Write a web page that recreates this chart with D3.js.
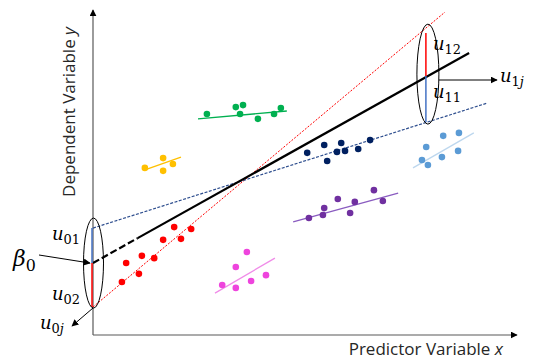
<!DOCTYPE html>
<html>
<head>
<meta charset="utf-8">
<script src="https://cdn.jsdelivr.net/npm/d3@7"></script>
<style>
  body { margin: 0; background: #fff; }
  svg { display: block; }
</style>
</head>
<body>
<script>
// values, in arbitrary units (x 0..10, y 0..10)
var redX = [0.68, 1.08, 0.78, 1.15, 1.44, 1.65, 2.07, 1.91, 2.31];
var redY = [1.62, 1.87, 2.20, 2.42, 2.35, 2.91, 2.94, 3.30, 3.24];
var yellowX = [1.22, 1.65, 1.65, 1.88];
var yellowY = [5.11, 5.41, 5.02, 5.23];
var greenX = [2.68, 3.36, 3.53, 3.46, 3.88, 4.26, 4.42];
var greenY = [6.76, 6.97, 7.03, 6.76, 6.61, 6.76, 6.94];
var pinkX = [3.04, 3.36, 3.36, 3.62, 3.72, 4.07];
var pinkY = [1.53, 1.44, 2.08, 2.54, 1.65, 1.83];
var navyX = [5.04, 5.44, 5.51, 5.74, 5.84, 5.93, 6.24, 6.52];
var navyY = [5.57, 5.81, 5.32, 5.60, 5.87, 5.63, 5.69, 5.96];
var purpleX = [5.08, 5.41, 5.44, 5.76, 6.16, 6.05, 6.61, 6.82];
var purpleY = [3.58, 3.67, 3.88, 4.16, 4.07, 3.73, 4.43, 4.10];
var lightX = [7.84, 8.24, 8.61, 7.74, 7.88, 8.21, 8.59];
var lightY = [5.75, 6.09, 6.18, 5.35, 5.20, 5.44, 5.63];

// per-group fitted segments [x1, y1, x2, y2]
var yellowFit = [1.22, 5.05, 2.07, 5.44];
var greenFit = [2.47, 6.61, 4.56, 6.85];
var pinkFit = [2.87, 1.28, 4.28, 2.35];
var purpleFit = [4.71, 3.46, 7.18, 4.34];
var lightFit = [7.53, 5.11, 8.96, 6.18];

// big lines: intercept, slope, end x
var fixedLine = [2.20, 0.726, 8.85];   // black (beta0)
var redLine = [0.856, 1.089, 8.28];
var blueLine = [3.27, 0.412, 9.27];
var dashEnd = 1.05;                     // black is dashed up to here
var x0j = 0, x1j = 7.88;                 // where the u's are shown

var width = 537, height = 359;

var svg = d3.select("body").append("svg")
    .attr("width", width)
    .attr("height", height)
    .style("font-family", "'Open Sans', sans-serif");

var x = d3.scaleLinear().domain([0, 10]).range([93, 518]);
var y = d3.scaleLinear().domain([0, 10]).range([335, 8]);

var defs = svg.append("defs");
defs.append("marker")
    .attr("id", "arr")
    .attr("viewBox", "0 0 10 10")
    .attr("refX", 9).attr("refY", 5)
    .attr("markerWidth", 7).attr("markerHeight", 7)
    .attr("markerUnits", "userSpaceOnUse")
    .attr("orient", "auto")
  .append("path")
    .attr("d", "M0,0L10,5L0,10z")
    .attr("fill", "#000");

// axes
svg.append("line")
    .attr("x1", x(0)).attr("y1", y(0))
    .attr("x2", x(0)).attr("y2", y(10) + 2)
    .attr("stroke", "#595959").attr("stroke-width", 1.2)
    .attr("marker-end", "url(#arr)");
svg.append("line")
    .attr("x1", x(0)).attr("y1", y(0))
    .attr("x2", x(10) - 1).attr("y2", y(0))
    .attr("stroke", "#595959").attr("stroke-width", 1.2)
    .attr("marker-end", "url(#arr)");

svg.append("text")
    .attr("x", 503).attr("y", 355)
    .attr("text-anchor", "end")
    .attr("font-size", 17).attr("fill", "#262626")
    .html("Predictor Variable <tspan font-style='italic'>x</tspan>");

svg.append("text")
    .attr("transform", "translate(75,112) rotate(-90)")
    .attr("text-anchor", "middle")
    .attr("font-size", 17).attr("fill", "#262626")
    .html("Dependent Variable <tspan font-style='italic'>y</tspan>");

function at(l, xv) { return l[0] + l[1] * xv; }

// the three big lines
svg.append("line")
    .attr("x1", x(0)).attr("y1", y(at(redLine, 0)))
    .attr("x2", x(redLine[2])).attr("y2", y(at(redLine, redLine[2])))
    .attr("stroke", "#ff0000").attr("stroke-width", 1)
    .attr("stroke-dasharray", "2,1.5");
svg.append("line")
    .attr("x1", x(0)).attr("y1", y(at(blueLine, 0)))
    .attr("x2", x(blueLine[2])).attr("y2", y(at(blueLine, blueLine[2])))
    .attr("stroke", "#2f4f8f").attr("stroke-width", 1.2)
    .attr("stroke-dasharray", "3,1.5");
svg.append("line")
    .attr("x1", x(0)).attr("y1", y(at(fixedLine, 0)))
    .attr("x2", x(dashEnd)).attr("y2", y(at(fixedLine, dashEnd)))
    .attr("stroke", "#000").attr("stroke-width", 2.2)
    .attr("stroke-dasharray", "7,3");
svg.append("line")
    .attr("x1", x(dashEnd)).attr("y1", y(at(fixedLine, dashEnd)))
    .attr("x2", x(fixedLine[2])).attr("y2", y(at(fixedLine, fixedLine[2])))
    .attr("stroke", "#000").attr("stroke-width", 2.2);

// group fit lines
var fits = [
  [yellowFit, "#ffc000"], [greenFit, "#00b050"], [pinkFit, "#f08ce8"],
  [purpleFit, "#8a5cc0"], [lightFit, "#bdd7ee"]
];
fits.forEach(function (f) {
  svg.append("line")
      .attr("x1", x(f[0][0])).attr("y1", y(f[0][1]))
      .attr("x2", x(f[0][2])).attr("y2", y(f[0][3]))
      .attr("stroke", f[1]).attr("stroke-width", 1.3);
});

// dots
var groups = [
  [redX, redY, "#ff0000"], [yellowX, yellowY, "#ffc000"],
  [greenX, greenY, "#00b050"], [pinkX, pinkY, "#ee44dd"],
  [navyX, navyY, "#002060"], [purpleX, purpleY, "#7030a0"],
  [lightX, lightY, "#5b9bd5"]
];
groups.forEach(function (g) {
  svg.append("g").selectAll("circle")
      .data(d3.range(g[0].length))
      .enter().append("circle")
      .attr("cx", function (i) { return x(g[0][i]); })
      .attr("cy", function (i) { return y(g[1][i]); })
      .attr("r", 3.3)
      .attr("fill", g[2]);
});

// residual segments inside the ellipses
function seg(xv, ya, yb, col, dx) {
  svg.append("line")
      .attr("x1", x(xv) + dx).attr("y1", y(ya))
      .attr("x2", x(xv) + dx).attr("y2", y(yb))
      .attr("stroke", col).attr("stroke-width", 1.5);
}
seg(x0j, at(blueLine, x0j), at(fixedLine, x0j), "#4472c4", -1);
seg(x0j, at(fixedLine, x0j), at(redLine, x0j), "#ff0000", -1);
seg(x1j, at(redLine, x1j) - 0.2, at(fixedLine, x1j), "#ff0000", -2);
seg(x1j, at(fixedLine, x1j), at(blueLine, x1j), "#4472c4", -2);

// ellipses
svg.append("ellipse")
    .attr("cx", x(x0j) + 0.5).attr("cy", y(at(fixedLine, x0j)))
    .attr("rx", 10).attr("ry", 45)
    .attr("fill", "none").attr("stroke", "#000").attr("stroke-width", 1);
svg.append("ellipse")
    .attr("cx", x(x1j)).attr("cy", (y(at(redLine, x1j)) + y(at(blueLine, x1j))) / 2)
    .attr("rx", 11).attr("ry", 50)
    .attr("fill", "none").attr("stroke", "#000").attr("stroke-width", 1);

// arrows for the random effects
svg.append("line")
    .attr("x1", x(x1j) + 11).attr("y1", 80)
    .attr("x2", 497).attr("y2", 80)
    .attr("stroke", "#000").attr("stroke-width", 1)
    .attr("marker-end", "url(#arr)");
svg.append("line")
    .attr("x1", x(x0j)).attr("y1", y(at(redLine, x0j)) + 1)
    .attr("x2", 72).attr("y2", 326)
    .attr("stroke", "#000").attr("stroke-width", 1)
    .attr("marker-end", "url(#arr)");
svg.append("line")
    .attr("x1", 39).attr("y1", 255)
    .attr("x2", x(x0j) - 3).attr("y2", y(at(fixedLine, x0j)))
    .attr("stroke", "#000").attr("stroke-width", 1)
    .attr("marker-end", "url(#arr)");

// math labels
function mlab(px, py, main, sub, size) {
  var t = svg.append("text")
      .attr("x", px).attr("y", py)
      .attr("font-family", "'DejaVu Serif', serif")
      .attr("font-size", size).attr("fill", "#000");
  t.append("tspan").attr("font-style", "italic").text(main);
  var s = t.append("tspan").attr("font-size", size * 0.72).attr("dy", size * 0.22);
  s.append("tspan").text(sub.replace("j", ""));
  if (sub.indexOf("j") >= 0) s.append("tspan").attr("font-style", "italic").text("j");
}
mlab(52, 240, "u", "01", 18);
mlab(52, 300, "u", "02", 18);
mlab(40, 329, "u", "0j", 18);
mlab(13, 266, "β", "0", 22);
mlab(433, 50, "u", "12", 18);
mlab(433, 98, "u", "11", 18);
mlab(500, 82, "u", "1j", 18);
</script>
</body>
</html>
